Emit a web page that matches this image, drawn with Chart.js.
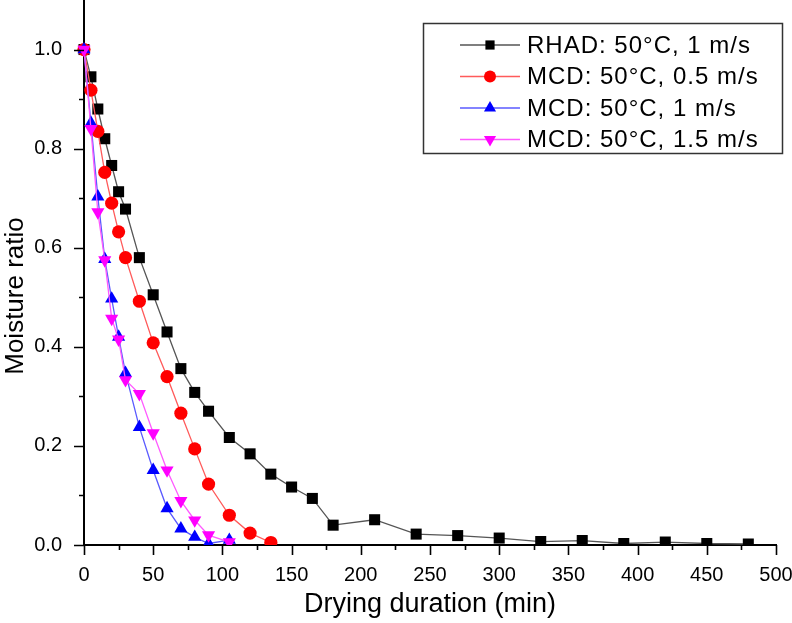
<!DOCTYPE html>
<html>
<head>
<meta charset="utf-8">
<title>Moisture ratio vs drying duration</title>
<script src="https://cdn.jsdelivr.net/npm/chart.js@4.4.1/dist/chart.umd.min.js"></script>
<style>
  html, body { margin: 0; padding: 0; background: #fff; }
  #wrap { position: relative; width: 792px; height: 623px; }
</style>
</head>
<body>
<div id="wrap"><canvas id="chart"></canvas></div>
<script>
// dados (tempo em min, razão de umidade)
const rhadX = [0, 5, 10, 15, 20, 25, 30, 40, 50, 60, 70, 80, 90, 105, 120, 135, 150, 165, 180, 210, 240, 270, 300, 330, 360, 390, 420, 450, 480];
const rhadY = [1.0, 0.945, 0.88, 0.82, 0.766, 0.713, 0.678, 0.58, 0.505, 0.43, 0.356, 0.308, 0.27, 0.217, 0.184, 0.143, 0.117, 0.094, 0.04, 0.051, 0.022, 0.019, 0.014, 0.007, 0.009, 0.003, 0.006, 0.003, 0.002];

const mcd05X = [0, 5, 10, 15, 20, 25, 30, 40, 50, 60, 70, 80, 90, 105, 120, 135];
const mcd05Y = [1.0, 0.918, 0.835, 0.752, 0.69, 0.632, 0.58, 0.492, 0.408, 0.34, 0.266, 0.194, 0.123, 0.06, 0.024, 0.005];

const mcd1X = [0, 5, 10, 15, 20, 25, 30, 40, 50, 60, 70, 80, 90, 105];
const mcd1Y = [1.0, 0.852, 0.703, 0.577, 0.497, 0.42, 0.347, 0.238, 0.151, 0.074, 0.033, 0.016, 0.003, 0.01];

const mcd15X = [0, 5, 10, 15, 20, 25, 30, 40, 50, 60, 70, 80, 90, 105];
const mcd15Y = [1.0, 0.84, 0.672, 0.575, 0.457, 0.415, 0.333, 0.305, 0.226, 0.151, 0.089, 0.05, 0.02, 0.006];

const seriesLabels = ['RHAD: 50°C, 1 m/s', 'MCD: 50°C, 0.5 m/s', 'MCD: 50°C, 1 m/s', 'MCD: 50°C, 1.5 m/s'];

const xTickValues = [0, 50, 100, 150, 200, 250, 300, 350, 400, 450, 500];
const yTickValues = [0, 0.2, 0.4, 0.6, 0.8, 1.0];
const xMinorTicks = [25, 75, 125, 175, 225, 275, 325, 375, 425, 475];
const yMinorTicks = [0.1, 0.3, 0.5, 0.7, 0.9];

const FONT = '"Liberation Sans", Arial, Helvetica, sans-serif';

function toPoints(xs, ys) {
    return xs.map((x, i) => ({ x: x, y: ys[i] }));
}

const estilos = [
    { line: '#555555', fill: '#000000', point: 'rect', radius: 7.8, rot: 0, legendR: 6.5 },
    { line: '#ff5a5a', fill: '#ff0000', point: 'circle', radius: 6.6, rot: 0, legendR: 6 },
    { line: '#5a5aff', fill: '#0000ff', point: 'triangle', radius: 7.6, rot: 0, legendR: 7 },
    { line: '#ff5aff', fill: '#ff00ff', point: 'triangle', radius: 7.6, rot: 180, legendR: 7 }
];

const dadosSeries = [
    toPoints(rhadX, rhadY),
    toPoints(mcd05X, mcd05Y),
    toPoints(mcd1X, mcd1Y),
    toPoints(mcd15X, mcd15Y)
];

const datasets = dadosSeries.map((pts, i) => ({
    label: seriesLabels[i],
    data: pts,
    borderColor: estilos[i].line,
    borderWidth: 1.3,
    backgroundColor: estilos[i].fill,
    pointBackgroundColor: estilos[i].fill,
    pointBorderColor: estilos[i].fill,
    pointBorderWidth: 0,
    pointStyle: estilos[i].point,
    pointRotation: estilos[i].rot,
    pointRadius: estilos[i].radius,
    pointHoverRadius: estilos[i].radius,
    tension: 0,
    // marcadores cortados pelo eixo x, como no original
    clip: { left: 12, top: 12, right: 12, bottom: 0 },
    order: 3 - i  // magenta por cima, como no original
}));

// ticks maiores e menores desenhados para fora dos eixos + título do eixo y
const tickPlugin = {
    id: 'ticksOrigin',
    afterDraw(chart) {
        const ctx = chart.ctx;
        const xs = chart.scales.x, ys = chart.scales.y;
        const area = chart.chartArea;
        ctx.save();
        ctx.strokeStyle = '#000';
        ctx.lineWidth = 1.6;
        ctx.beginPath();
        xTickValues.concat(xMinorTicks).forEach(v => {
            const px = Math.round(xs.getPixelForValue(v)) + 0.5;
            const len = xTickValues.includes(v) ? 10 : 5;
            ctx.moveTo(px, area.bottom);
            ctx.lineTo(px, area.bottom + len);
        });
        yTickValues.concat(yMinorTicks).forEach(v => {
            const py = Math.round(ys.getPixelForValue(v)) + 0.5;
            const len = yTickValues.includes(v) ? 10 : 5;
            ctx.moveTo(area.left, py);
            ctx.lineTo(area.left - len, py);
        });
        ctx.stroke();

        // título do eixo y (um pouco abaixo do centro, como no original)
        ctx.translate(16, 296);
        ctx.rotate(-Math.PI / 2);
        ctx.font = '26px ' + FONT;
        ctx.fillStyle = '#000';
        ctx.textAlign = 'center';
        ctx.textBaseline = 'middle';
        ctx.fillText('Moisture ratio', 0, 0);
        ctx.restore();
    }
};

// legenda com moldura, dentro da área do gráfico
const legendPlugin = {
    id: 'legendaBox',
    afterDraw(chart) {
        const ctx = chart.ctx;
        ctx.save();
        ctx.strokeStyle = '#333';
        ctx.lineWidth = 1.5;
        ctx.strokeRect(423.5, 23.5, 359, 130);
        const rows = [45, 76.5, 108, 139.5];
        ctx.font = '24px ' + FONT;
        ctx.textBaseline = 'middle';
        ctx.fillStyle = '#000';
        if ('letterSpacing' in ctx) ctx.letterSpacing = '1px';
        rows.forEach((y, i) => {
            const st = estilos[i];
            ctx.strokeStyle = st.line;
            ctx.lineWidth = 1.3;
            ctx.beginPath();
            ctx.moveTo(460, y);
            ctx.lineTo(520, y);
            ctx.stroke();
            ctx.fillStyle = st.fill;
            Chart.helpers.drawPoint(ctx, {
                pointStyle: st.point,
                rotation: st.rot,
                radius: st.legendR,
                borderWidth: 0
            }, 490, y);
            ctx.fillStyle = '#000';
            ctx.fillText(seriesLabels[i], 527, y + 1);
        });
        ctx.restore();
    }
};

// tira o padding automático que o Chart.js reserva para os rótulos das pontas
function semPadding(scale) {
    scale.paddingTop = 0;
    scale.paddingBottom = 0;
    scale.paddingLeft = 0;
    scale.paddingRight = 0;
}

const ctx = document.getElementById('chart');
new Chart(ctx, {
    type: 'line',
    data: { datasets: datasets },
    plugins: [tickPlugin, legendPlugin],
    options: {
        responsive: true,
        maintainAspectRatio: false,
        animation: false,
        layout: { autoPadding: false, padding: { left: 0, right: 16, top: 0, bottom: 0 } },
        plugins: {
            legend: { display: false },
            tooltip: { enabled: false },
            title: { display: false }
        },
        scales: {
            x: {
                type: 'linear',
                min: 0,
                max: 500,
                grid: { display: false, drawTicks: false },
                border: { display: true, color: '#000', width: 2 },
                afterBuildTicks: (scale) => { scale.ticks = xTickValues.map(v => ({ value: v })); },
                afterFit: (scale) => { scale.height = 78; semPadding(scale); },
                ticks: {
                    autoSkip: false,
                    maxRotation: 0,
                    padding: 18,
                    color: '#000',
                    font: { family: FONT, size: 20 },
                    callback: (v) => String(v)
                },
                title: {
                    display: true,
                    text: 'Drying duration (min)',
                    color: '#000',
                    font: { family: FONT, size: 27 },
                    padding: { top: 0, bottom: 2 }
                }
            },
            y: {
                type: 'linear',
                min: 0,
                max: 1.1,
                grid: { display: false, drawTicks: false },
                border: { display: true, color: '#000', width: 2 },
                afterBuildTicks: (scale) => { scale.ticks = yTickValues.map(v => ({ value: v })); },
                afterFit: (scale) => { scale.width = 84; semPadding(scale); },
                ticks: {
                    autoSkip: false,
                    padding: 22,
                    color: '#000',
                    font: { family: FONT, size: 20 },
                    callback: (v) => Number(v).toFixed(1)
                },
                title: { display: false }
            }
        }
    }
});
</script>
</body>
</html>
